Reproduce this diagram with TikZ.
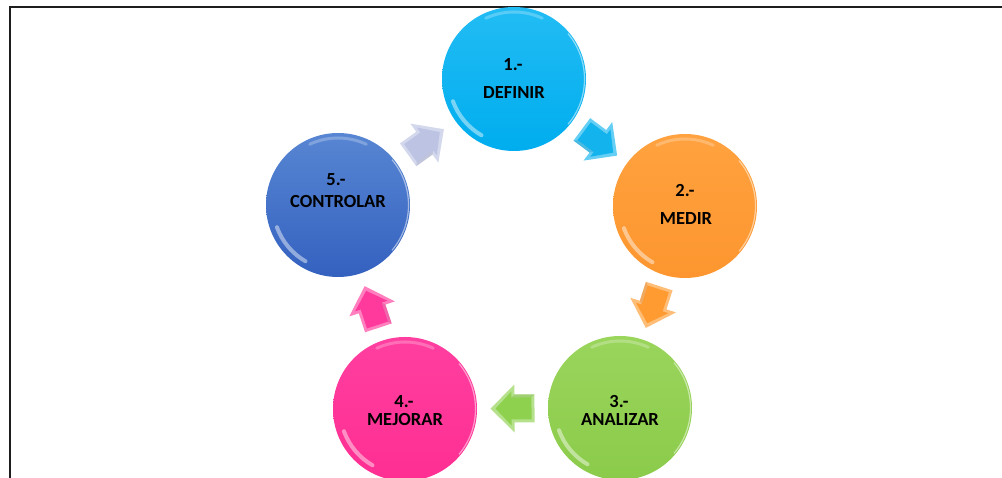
\documentclass[tikz,border=0pt]{standalone}
\usepackage{fontspec}
\setmainfont{Carlito}
\usetikzlibrary{calc}

\definecolor{defTop}{HTML}{22BCF4}
\definecolor{defBot}{HTML}{00ADEE}
\definecolor{medTop}{HTML}{FFA23F}
\definecolor{medBot}{HTML}{FD962F}
\definecolor{anaTop}{HTML}{9AD55C}
\definecolor{anaBot}{HTML}{8BCB4A}
\definecolor{mejTop}{HTML}{FF3FA0}
\definecolor{mejBot}{HTML}{FF2E92}
\definecolor{conTop}{HTML}{5886D3}
\definecolor{conBot}{HTML}{3461BF}
\definecolor{arrCyan}{HTML}{13B3EE}
\definecolor{arrOrange}{HTML}{FF9B30}
\definecolor{arrGreen}{HTML}{8ED14E}
\definecolor{arrPink}{HTML}{FF3A9C}
\definecolor{arrLilac}{HTML}{BCC3E3}
\definecolor{frameGray}{HTML}{1E1E1E}

\tikzset{
  stage/.style 2 args={circle, minimum size=144pt, inner sep=0pt, draw=none,
    top color=#1, bottom color=#2,
    path picture={
      \begin{scope}[shift={(path picture bounding box.center)}]
        % soft glossy rim highlights
        \draw[white, opacity=.45, line width=4pt, line cap=round]
          (200:65) arc[start angle=200, end angle=240, radius=65];
        \draw[white, opacity=.25, line width=3pt, line cap=round]
          (65:67) arc[start angle=65, end angle=115, radius=67];
        \draw[white, opacity=.5, line width=1.2pt]
          (-40:70.5) arc[start angle=-40, end angle=40, radius=70.5];
      \end{scope}}},
  stagetext/.style={font=\fontsize{18.5}{21}\selectfont\bfseries, text=black, inner sep=0pt},
  pics/cyclearrow/.style={code={
    % bevelled block arrow pointing along +x
    \fill[#1!65!white] (-22,-14) -- (-2,-14) -- (-2,-24) -- (22,0) -- (-2,24) -- (-2,14) -- (-22,14) -- cycle;
    \fill[#1] (-19,-11) -- (1,-11) -- (1,-17) -- (17,0) -- (1,17) -- (1,11) -- (-19,11) -- cycle;
    \fill[#1!80!black, opacity=.3] (-22,-14) -- (-2,-14) -- (1,-11) -- (-19,-11) -- cycle;
  }}
}

\begin{document}
\begin{tikzpicture}[x=1pt, y=1pt]
  \useasboundingbox (0,0) rectangle (1002,478);
  \clip (0,0) rectangle (1002,478);

  % page frame
  \draw[frameGray, line width=2.2pt] (10,-5) -- (10,471) -- (1010,471);

  % the five stages
  \node[stage={defTop}{defBot}] (c1) at (514,399) {};
  \node[stage={medTop}{medBot}] (c2) at (685,272) {};
  \node[stage={anaTop}{anaBot}] (c3) at (620,70)  {};
  \node[stage={mejTop}{mejBot}] (c4) at (405,69)  {};
  \node[stage={conTop}{conBot}] (c5) at (338,273) {};

  % arrows between stages
  \path (c1) -- (c2) pic[pos=.5, sloped, allow upside down] {cyclearrow=arrCyan};
  \path (c2) -- (c3) pic[pos=.5, sloped, allow upside down] {cyclearrow=arrOrange};
  \path (c3) -- (c4) pic[pos=.5, sloped, allow upside down] {cyclearrow=arrGreen};
  \path (c4) -- (c5) pic[pos=.5, sloped, allow upside down] {cyclearrow=arrPink};
  \path (c5) -- (c1) pic[pos=.5, sloped, allow upside down] {cyclearrow=arrLilac};

  % labels
  \node[stagetext] (n1) at ($(c1)+(-1,14)$)  {1.-};
  \node[stagetext] (w1) at ($(c1)+(0,-14)$)  {DEFINIR};
  \node[stagetext] (n2) at ($(c2)+(0,15)$)   {2.-};
  \node[stagetext] (w2) at ($(c2)+(1,-13)$)  {MEDIR};
  \node[stagetext] (n3) at ($(c3)+(-1,6)$)   {3.-};
  \node[stagetext] (w3) at ($(c3)+(0,-12)$)  {ANALIZAR};
  \node[stagetext] (n4) at ($(c4)+(-1,7)$)   {4.-};
  \node[stagetext] (w4) at ($(c4)+(0,-11)$)  {MEJORAR};
  \node[stagetext] (n5) at ($(c5)+(-2,25)$)  {5.-};
  \node[stagetext] (w5) at ($(c5)+(0,3)$)    {CONTROLAR};
\end{tikzpicture}
\end{document}
